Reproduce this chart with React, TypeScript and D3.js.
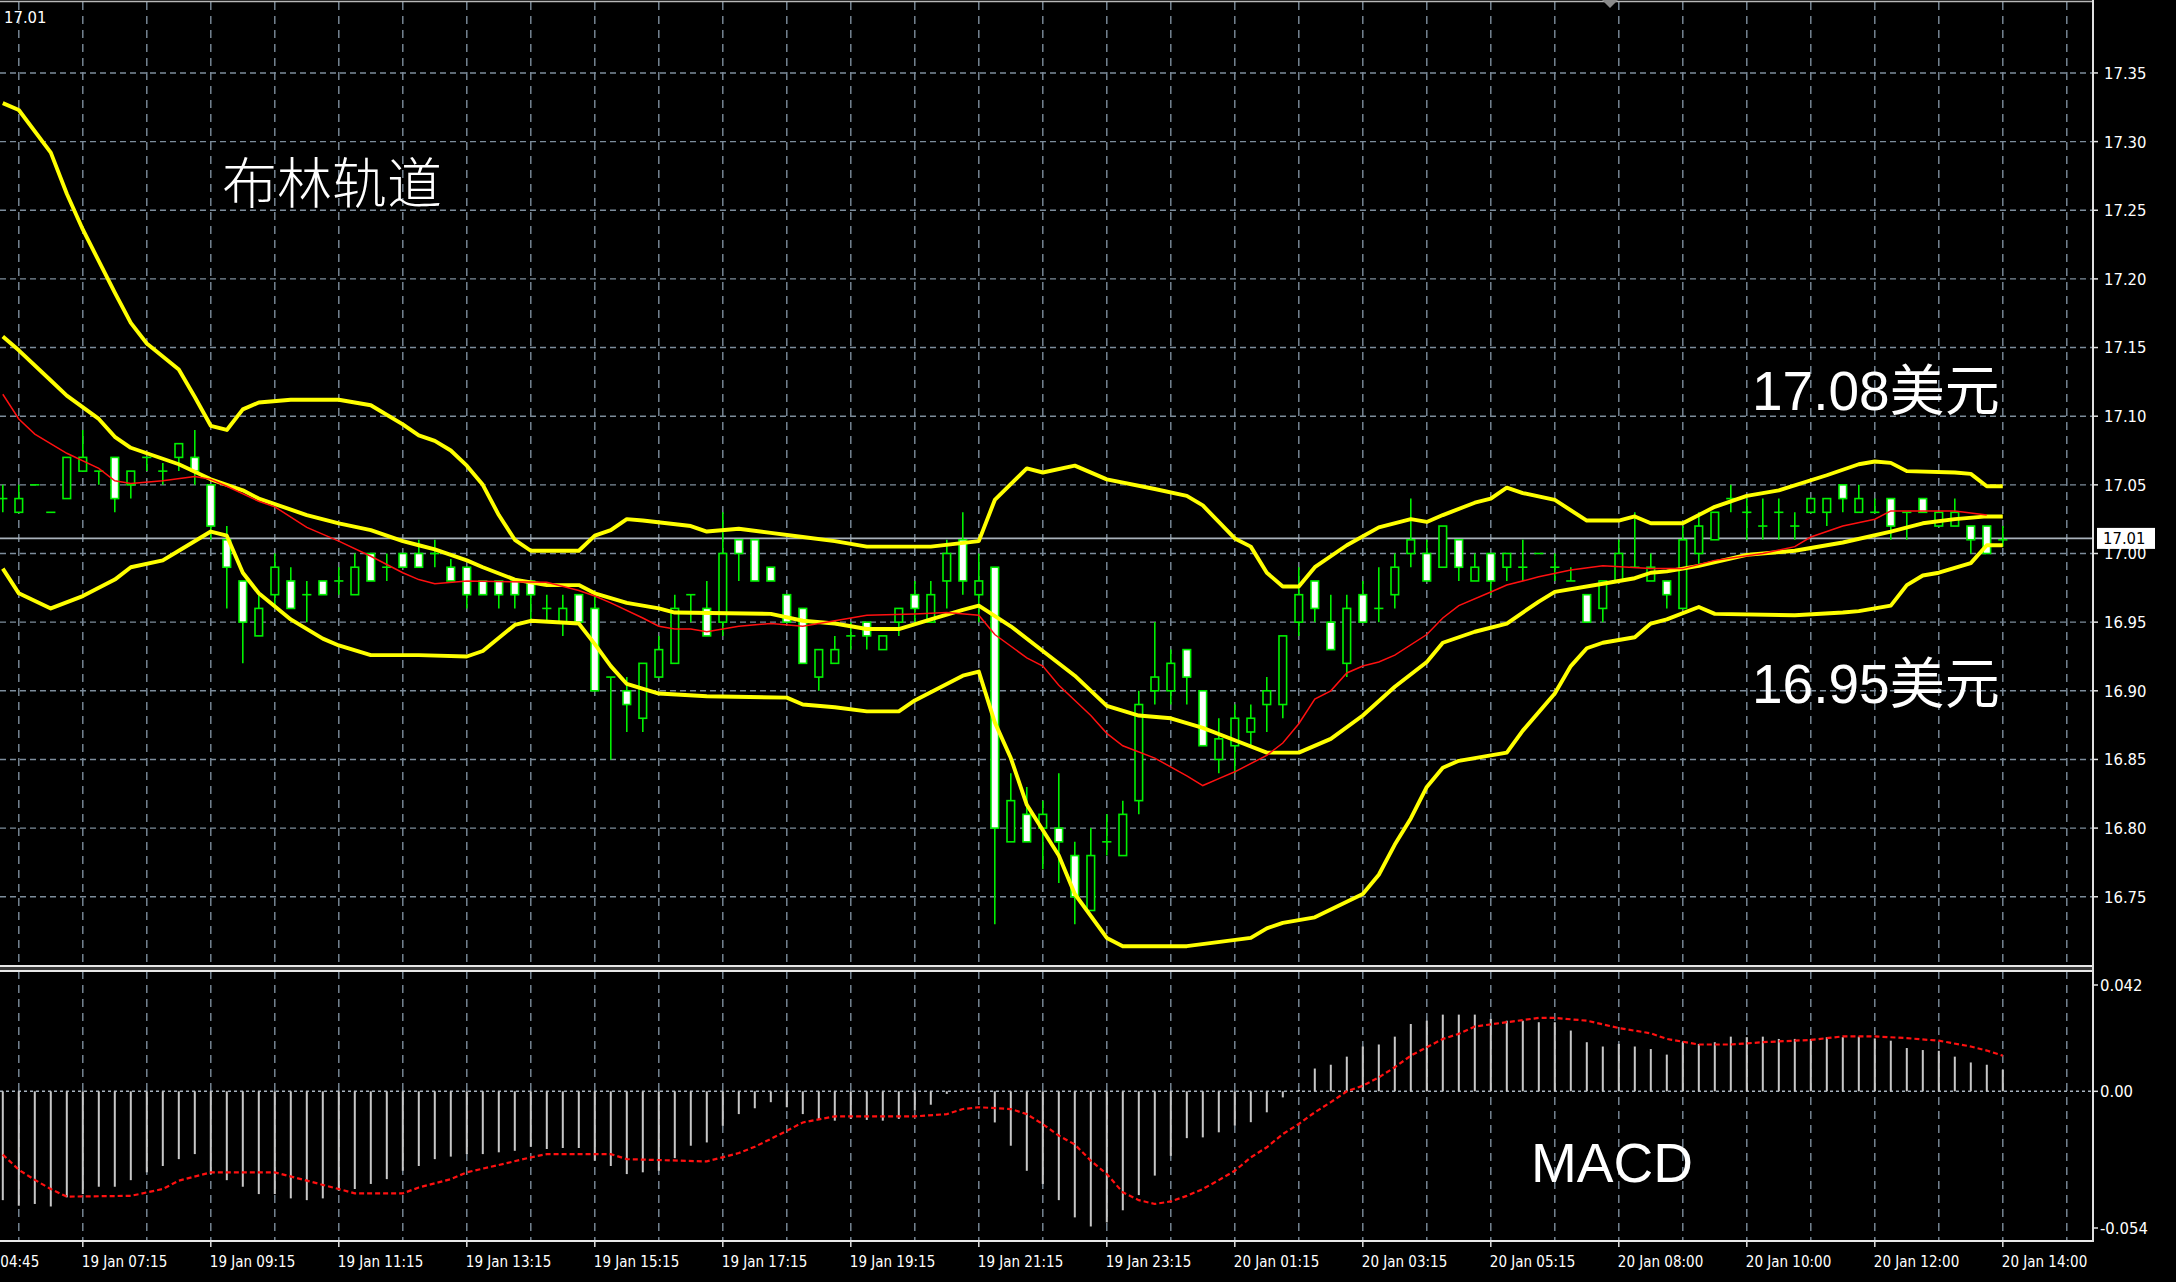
import React from "react";
import * as d3 from "d3";

const W = 2176;
const H = 1282;

// ---------- price data (one value per 15-minute bar) ----------
const opens = [
  17.04, 17.03, 17.05, 17.03, 17.04, 17.06, 17.06, 17.07, 17.05, 17.07,
  17.06, 17.07, 17.07, 17.05, 17.01, 16.98, 16.94, 16.97, 16.98, 16.97,
  16.98, 16.98, 16.97, 17.0, 16.99, 17.0, 17.0, 17.0, 16.99, 16.99,
  16.98, 16.98, 16.98, 16.98, 16.96, 16.95, 16.97, 16.96, 16.91, 16.9,
  16.88, 16.91, 16.92, 16.97, 16.96, 16.95, 17.01, 17.01, 16.99, 16.97,
  16.96, 16.91, 16.92, 16.94, 16.95, 16.93, 16.95, 16.97, 16.95, 16.98,
  17.01, 16.97, 16.99, 16.79, 16.81, 16.8, 16.8, 16.78, 16.74, 16.79,
  16.78, 16.82, 16.9, 16.9, 16.93, 16.9, 16.85, 16.86, 16.87, 16.89,
  16.89, 16.95, 16.98, 16.95, 16.92, 16.97, 16.96, 16.97, 17.0, 17.0,
  16.99, 17.01, 16.98, 17.0, 16.99, 16.99, 17.0, 16.99, 16.98, 16.97,
  16.96, 16.98, 16.99, 16.98, 16.98, 16.96, 17.0, 17.01, 17.04, 17.03,
  17.02, 17.03, 17.02, 17.03, 17.03, 17.05, 17.03, 17.03, 17.04, 17.03,
  17.04, 17.02, 17.02, 17.02, 17.02, 17.01,
];
const highs = [
  17.05, 17.05, 17.05, 17.03, 17.07, 17.09, 17.06, 17.07, 17.06, 17.07,
  17.066, 17.08, 17.09, 17.05, 17.02, 16.98, 16.97, 17.0, 16.99, 16.98,
  16.98, 16.99, 17.0, 17.0, 17.0, 17.0, 17.01, 17.01, 16.996, 16.99,
  16.98, 16.98, 16.98, 16.98, 16.97, 16.97, 16.97, 16.97, 16.91, 16.91,
  16.92, 16.94, 16.97, 16.97, 16.98, 17.03, 17.01, 17.01, 16.99, 16.97,
  16.96, 16.93, 16.94, 16.95, 16.95, 16.94, 16.96, 16.98, 16.98, 17.01,
  17.03, 17.0, 16.99, 16.84, 16.83, 16.82, 16.84, 16.79, 16.8, 16.81,
  16.82, 16.9, 16.95, 16.93, 16.93, 16.9, 16.88, 16.89, 16.89, 16.91,
  16.94, 16.99, 16.98, 16.97, 16.97, 16.98, 16.99, 17.0, 17.04, 17.01,
  17.02, 17.01, 17.0, 17.0, 17.0, 17.01, 17.0, 17.0, 16.99, 16.97,
  16.98, 17.01, 17.03, 17.0, 16.98, 17.02, 17.03, 17.03, 17.05, 17.04,
  17.04, 17.04, 17.03, 17.04, 17.04, 17.05, 17.05, 17.04, 17.04, 17.03,
  17.04, 17.03, 17.04, 17.02, 17.02, 17.02,
];
const lows = [
  17.03, 17.03, 17.05, 17.03, 17.04, 17.06, 17.05, 17.03, 17.04, 17.06,
  17.05, 17.06, 17.05, 17.01, 16.96, 16.92, 16.94, 16.96, 16.96, 16.95,
  16.97, 16.97, 16.97, 16.98, 16.98, 16.99, 16.99, 16.99, 16.98, 16.96,
  16.97, 16.96, 16.96, 16.95, 16.95, 16.94, 16.95, 16.9, 16.85, 16.87,
  16.87, 16.91, 16.92, 16.95, 16.94, 16.94, 16.98, 16.98, 16.98, 16.95,
  16.92, 16.9, 16.92, 16.93, 16.93, 16.93, 16.94, 16.95, 16.95, 16.96,
  16.97, 16.95, 16.73, 16.79, 16.79, 16.77, 16.76, 16.73, 16.74, 16.78,
  16.78, 16.81, 16.89, 16.89, 16.89, 16.86, 16.84, 16.84, 16.86, 16.87,
  16.88, 16.94, 16.95, 16.93, 16.91, 16.95, 16.95, 16.96, 16.99, 16.98,
  16.99, 16.98, 16.98, 16.97, 16.98, 16.98, 17.0, 16.98, 16.98, 16.95,
  16.95, 16.98, 16.99, 16.98, 16.96, 16.96, 16.99, 17.01, 17.03, 17.01,
  17.01, 17.01, 17.01, 17.03, 17.02, 17.03, 17.03, 17.03, 17.01, 17.01,
  17.03, 17.02, 17.02, 17.0, 17.0, 17.005,
];
const closes = [
  17.04, 17.04, 17.05, 17.03, 17.07, 17.07, 17.06, 17.04, 17.06, 17.07,
  17.06, 17.08, 17.06, 17.02, 16.99, 16.95, 16.96, 16.99, 16.96, 16.97,
  16.97, 16.98, 16.99, 16.98, 16.99, 16.99, 16.99, 17.0, 16.98, 16.97,
  16.97, 16.97, 16.97, 16.97, 16.96, 16.96, 16.95, 16.9, 16.91, 16.89,
  16.92, 16.93, 16.96, 16.97, 16.94, 17.0, 17.0, 16.98, 16.98, 16.95,
  16.92, 16.93, 16.93, 16.94, 16.94, 16.94, 16.96, 16.96, 16.97, 17.0,
  16.98, 16.98, 16.8, 16.82, 16.79, 16.81, 16.79, 16.75, 16.78, 16.79,
  16.81, 16.89, 16.91, 16.92, 16.91, 16.86, 16.865, 16.88, 16.88, 16.9,
  16.94, 16.97, 16.96, 16.93, 16.96, 16.95, 16.96, 16.99, 17.01, 16.98,
  17.02, 16.99, 16.99, 16.98, 17.0, 16.99, 17.0, 16.99, 16.98, 16.95,
  16.98, 17.0, 16.99, 16.99, 16.97, 17.01, 17.02, 17.03, 17.04, 17.03,
  17.02, 17.03, 17.02, 17.04, 17.04, 17.04, 17.04, 17.03, 17.02, 17.03,
  17.03, 17.03, 17.03, 17.01, 17.0, 17.01,
];

// ---------- Bollinger bands & moving average: [bar index, price] ----------
const upperBand: [number, number][] = [
  [0, 17.328], [1, 17.323], [3, 17.292], [4, 17.262], [5, 17.236], [7, 17.19], [8, 17.168],
  [9, 17.153], [11, 17.134], [12, 17.114], [13, 17.093], [14, 17.09], [15, 17.105], [16, 17.11],
  [18, 17.112], [21, 17.112], [23, 17.108], [25, 17.094], [26, 17.086], [27, 17.082], [28, 17.075],
  [29, 17.064], [30, 17.05], [31, 17.028], [32, 17.01], [33, 17.002], [36, 17.002], [37, 17.013],
  [38, 17.017], [39, 17.025], [40, 17.024], [43, 17.02], [44, 17.016], [46, 17.018], [48, 17.015],
  [50, 17.012], [52, 17.009], [54, 17.005], [58, 17.005], [61, 17.009], [62, 17.039], [64, 17.062],
  [65, 17.059], [67, 17.064], [69, 17.054], [72, 17.047], [74, 17.042], [75, 17.035], [77, 17.011],
  [78, 17.005], [79, 16.986], [80, 16.976], [81, 16.976], [82, 16.99], [84, 17.006], [86, 17.019],
  [88, 17.025], [89, 17.023], [90, 17.028], [92, 17.037], [93, 17.04], [94, 17.048], [95, 17.044],
  [97, 17.039], [99, 17.024], [101, 17.024], [102, 17.027], [103, 17.022], [105, 17.022],
  [107, 17.034], [109, 17.042], [111, 17.046], [114, 17.057], [116, 17.065], [117, 17.067],
  [118, 17.066], [119, 17.06], [122, 17.059], [123, 17.058], [124, 17.049], [125, 17.049],
];
const middleBand: [number, number][] = [
  [0, 17.158], [1, 17.148], [3, 17.126], [4, 17.115], [6, 17.098], [7, 17.085], [8, 17.077],
  [10, 17.069], [11, 17.065], [13, 17.054], [15, 17.046], [16, 17.04], [19, 17.028], [21, 17.022],
  [23, 17.017], [25, 17.009], [26, 17.006], [27, 17.003], [29, 16.995], [30, 16.99], [32, 16.981],
  [34, 16.977], [36, 16.977], [37, 16.971], [39, 16.964], [41, 16.96], [42, 16.957], [48, 16.956],
  [50, 16.951], [52, 16.949], [54, 16.945], [56, 16.945], [58, 16.952], [60, 16.959], [61, 16.962],
  [63, 16.947], [65, 16.929], [67, 16.911], [69, 16.889], [71, 16.882], [73, 16.88], [75, 16.873],
  [77, 16.864], [79, 16.855], [81, 16.855], [83, 16.865], [85, 16.882], [87, 16.903], [89, 16.921],
  [90, 16.935], [92, 16.943], [94, 16.949], [96, 16.965], [97, 16.972], [100, 16.978],
  [102, 16.982], [103, 16.986], [104, 16.987], [106, 16.991], [109, 16.999], [112, 17.002],
  [115, 17.008], [118, 17.016], [120, 17.022], [122, 17.025], [124, 17.027], [125, 17.027],
];
const lowerBand: [number, number][] = [
  [0, 16.989], [1, 16.971], [3, 16.96], [5, 16.969], [7, 16.981], [8, 16.99], [10, 16.995],
  [11, 17.002], [13, 17.016], [14, 17.013], [15, 16.986], [16, 16.971], [18, 16.952], [20, 16.938],
  [21, 16.933], [23, 16.926], [26, 16.926], [29, 16.925], [30, 16.929], [32, 16.948], [33, 16.951],
  [36, 16.949], [37, 16.934], [38, 16.918], [39, 16.905], [41, 16.898], [44, 16.896], [49, 16.895],
  [50, 16.89], [52, 16.888], [54, 16.885], [56, 16.885], [57, 16.893], [60, 16.911], [61, 16.914],
  [62, 16.877], [63, 16.851], [64, 16.817], [66, 16.78], [67, 16.752], [69, 16.72], [70, 16.714],
  [74, 16.714], [78, 16.72], [79, 16.727], [80, 16.731], [82, 16.735], [85, 16.752], [86, 16.766],
  [87, 16.788], [88, 16.807], [89, 16.83], [90, 16.844], [91, 16.849], [94, 16.855], [95, 16.871],
  [97, 16.898], [98, 16.918], [99, 16.931], [100, 16.935], [102, 16.939], [103, 16.949],
  [104, 16.952], [106, 16.961], [107, 16.956], [112, 16.955], [115, 16.957], [116, 16.958],
  [118, 16.962], [119, 16.977], [120, 16.984], [121, 16.986], [123, 16.993], [124, 17.006],
  [125, 17.006],
];
const maLine: [number, number][] = [
  [0, 17.116], [1, 17.098], [2, 17.087], [4, 17.073], [6, 17.062], [7, 17.053], [8, 17.051],
  [10, 17.053], [12, 17.056], [13, 17.054], [14, 17.049], [16, 17.038], [17, 17.034], [19, 17.019],
  [21, 17.009], [23, 16.998], [25, 16.986], [26, 16.981], [27, 16.978], [29, 16.98], [34, 16.979],
  [36, 16.973], [37, 16.969], [38, 16.964], [40, 16.953], [41, 16.947], [42, 16.945], [43, 16.945],
  [44, 16.943], [46, 16.947], [48, 16.949], [50, 16.947], [52, 16.951], [54, 16.955], [57, 16.956],
  [59, 16.957], [61, 16.955], [62, 16.941], [64, 16.924], [65, 16.918], [66, 16.904], [68, 16.882],
  [69, 16.869], [70, 16.86], [72, 16.851], [74, 16.838], [75, 16.831], [76, 16.836], [77, 16.841],
  [79, 16.853], [80, 16.862], [81, 16.876], [82, 16.894], [83, 16.9], [84, 16.913], [85, 16.918],
  [86, 16.921], [87, 16.926], [89, 16.941], [90, 16.953], [91, 16.962], [93, 16.972], [94, 16.977],
  [96, 16.983], [98, 16.988], [100, 16.991], [103, 16.989], [105, 16.989], [107, 16.995],
  [110, 17.0], [112, 17.005], [113, 17.012], [115, 17.02], [117, 17.025], [118, 17.031],
  [122, 17.031], [124, 17.028],
];

// ---------- MACD ----------
const macdHist = [
  -0.043, -0.0452, -0.0445, -0.0455, -0.0419, -0.0406, -0.0377, -0.0377, -0.0351, -0.032,
  -0.0295, -0.0268, -0.0248, -0.0327, -0.0351, -0.0377, -0.0406, -0.0406, -0.0423, -0.043,
  -0.0423, -0.0393, -0.0386, -0.0366, -0.0347, -0.0314, -0.0295, -0.0268, -0.0258, -0.0248,
  -0.0248, -0.0241, -0.0235, -0.0219, -0.0228, -0.0224, -0.0224, -0.0274, -0.0295, -0.0327,
  -0.032, -0.0314, -0.0264, -0.0215, -0.0202, -0.0136, -0.009, -0.0067, -0.0043, -0.0063,
  -0.009, -0.0109, -0.0116, -0.0109, -0.0113, -0.0116, -0.0109, -0.0076, -0.0053, -0.001,
  0.0, -0.0004, -0.0123, -0.0215, -0.0314, -0.0366, -0.043, -0.0498, -0.0534, -0.0518,
  -0.047, -0.041, -0.0333, -0.0255, -0.0185, -0.0182, -0.0162, -0.0135, -0.0122, -0.0083,
  -0.0024, 0.0005, 0.009, 0.0105, 0.0137, 0.0177, 0.0185, 0.0216, 0.0266, 0.0279,
  0.0303, 0.0303, 0.0303, 0.0286, 0.0279, 0.0279, 0.0273, 0.0273, 0.024, 0.0194,
  0.0177, 0.0187, 0.0177, 0.0167, 0.0145, 0.0194, 0.0187, 0.0194, 0.0216, 0.0214,
  0.0216, 0.0207, 0.0207, 0.0207, 0.0214, 0.0214, 0.0216, 0.0209, 0.02, 0.0171,
  0.0163, 0.016, 0.0137, 0.0114, 0.0105, 0.0085,
];
const macdSignal: [number, number][] = [
  [0, -0.025], [1, -0.031], [2, -0.035], [3, -0.0386], [4, -0.0416], [8, -0.0413], [10, -0.0386],
  [11, -0.0353], [13, -0.032], [17, -0.032], [19, -0.0353], [21, -0.0386], [22, -0.0403],
  [25, -0.0403], [26, -0.038], [28, -0.0347], [29, -0.032], [31, -0.0291], [33, -0.0261],
  [34, -0.0248], [38, -0.0248], [39, -0.0268], [44, -0.0277], [46, -0.0244], [47, -0.0219],
  [48, -0.0188], [49, -0.0156], [50, -0.0123], [52, -0.0099], [57, -0.0099], [59, -0.009],
  [60, -0.007], [61, -0.0063], [63, -0.007], [64, -0.009], [65, -0.013], [66, -0.0175],
  [67, -0.021], [68, -0.0274], [69, -0.0327], [70, -0.0399], [71, -0.043], [72, -0.0445],
  [73, -0.0435], [74, -0.0413], [75, -0.0386], [76, -0.0351], [77, -0.0314], [78, -0.0261],
  [79, -0.0221], [80, -0.0169], [81, -0.0129], [82, -0.0083], [83, -0.0043], [84, 0.0],
  [85, 0.0022], [86, 0.0055], [87, 0.0095], [88, 0.0141], [89, 0.0174], [90, 0.0207],
  [91, 0.0227], [92, 0.0256], [94, 0.0273], [96, 0.029], [97, 0.029], [99, 0.0279], [101, 0.025],
  [103, 0.0229], [104, 0.0207], [106, 0.0185], [108, 0.0185], [110, 0.0194], [113, 0.0203],
  [115, 0.0217], [117, 0.0217], [119, 0.021], [121, 0.02], [123, 0.0177], [124, 0.0161],
  [125, 0.0141],
];

// ---------- axes ----------
const priceTicks = [17.35, 17.3, 17.25, 17.2, 17.15, 17.1, 17.05, 17.0, 16.95, 16.9, 16.85, 16.8, 16.75];
const macdTicks = [0.042, 0.0, -0.054];
const macdTickLabels = ["0.042", "0.00", "-0.054"];
const timeLabelBars = [-3, 5, 13, 21, 29, 37, 45, 53, 61, 69, 77, 85, 93, 101, 109, 117, 125];
const timeLabels = [
  "19 Jan 04:45", "19 Jan 07:15", "19 Jan 09:15", "19 Jan 11:15", "19 Jan 13:15", "19 Jan 15:15",
  "19 Jan 17:15", "19 Jan 19:15", "19 Jan 21:15", "19 Jan 23:15", "20 Jan 01:15", "20 Jan 03:15",
  "20 Jan 05:15", "20 Jan 08:00", "20 Jan 10:00", "20 Jan 12:00", "20 Jan 14:00",
];
const lastPrice = 17.011;

const GRID = "#7d8d9c";
const LIME = "#00f000";
const AXIS_FONT = "'DejaVu Sans Condensed', 'DejaVu Sans', sans-serif";
const BIG_FONT = "'Liberation Sans', 'Noto Sans CJK SC', sans-serif";

export default function App() {
  const plotRight = 2093;
  const mainBottom = 966;
  const macdTop = 971;
  const macdBottom = 1241;

  const x = d3.scaleLinear().domain([0, 125]).range([2.8, 2002.8]);
  const y = d3.scaleLinear().domain([16.75, 17.35]).range([896.75, 72.95]);
  const ym = d3.scaleLinear().domain([-0.054, 0.042]).range([1228, 985]);

  const priceLine = d3
    .line<[number, number]>()
    .x((d) => x(d[0]))
    .y((d) => y(d[1]));
  const macdLine = d3
    .line<[number, number]>()
    .x((d) => x(d[0]))
    .y((d) => ym(d[1]));

  const gridBars = d3.range(0, 33).map((k) => 1 + 4 * k);

  const bodyHalf = 3.8;

  return (
    <svg
      width={W}
      height={H}
      style={{ position: "absolute", left: 0, top: 0, display: "block" }}
      xmlns="http://www.w3.org/2000/svg"
    >
      <defs>
        <clipPath id="mainClip">
          <rect x={0} y={2} width={plotRight} height={mainBottom - 2} />
        </clipPath>
        <clipPath id="macdClip">
          <rect x={0} y={macdTop} width={plotRight} height={macdBottom - macdTop} />
        </clipPath>
      </defs>
      <rect x={0} y={0} width={W} height={H} fill="#000" />

      {/* vertical grid */}
      <g stroke={GRID} strokeWidth={1.4} strokeDasharray="8,6">
        {gridBars.map((b) => (
          <g key={b}>
            <line x1={x(b)} x2={x(b)} y1={2} y2={mainBottom} />
            <line x1={x(b)} x2={x(b)} y1={macdTop} y2={macdBottom} />
          </g>
        ))}
      </g>
      {/* horizontal grid */}
      <g stroke={GRID} strokeWidth={1.4} strokeDasharray="6,4">
        {priceTicks.map((p) => (
          <line key={p} x1={0} x2={plotRight} y1={y(p)} y2={y(p)} />
        ))}
      </g>

      {/* current price line */}
      <line x1={0} x2={plotRight} y1={y(lastPrice)} y2={y(lastPrice)} stroke="#a9b2bb" strokeWidth={1.6} />

      {/* candles */}
      <g clipPath="url(#mainClip)">
        {closes.map((c, i) => {
          const o = opens[i];
          const cx = x(i);
          const top = y(Math.max(o, c));
          const bot = y(Math.min(o, c));
          return (
            <g key={i}>
              <line x1={cx} x2={cx} y1={y(highs[i])} y2={y(lows[i])} stroke={LIME} strokeWidth={1.6} />
              {o === c ? (
                <line x1={cx - bodyHalf - 0.8} x2={cx + bodyHalf + 0.8} y1={y(o)} y2={y(o)} stroke={LIME} strokeWidth={1.6} />
              ) : (
                <rect
                  x={cx - bodyHalf}
                  y={top}
                  width={bodyHalf * 2}
                  height={Math.max(bot - top, 1)}
                  fill={c < o ? "#ffffff" : "#000000"}
                  stroke={LIME}
                  strokeWidth={1.6}
                />
              )}
            </g>
          );
        })}
        {/* Bollinger bands */}
        <path d={priceLine(upperBand) || ""} fill="none" stroke="#ffff00" strokeWidth={3.9} strokeLinejoin="round" />
        <path d={priceLine(lowerBand) || ""} fill="none" stroke="#ffff00" strokeWidth={3.9} strokeLinejoin="round" />
        <path d={priceLine(middleBand) || ""} fill="none" stroke="#ffff00" strokeWidth={3.9} strokeLinejoin="round" />
        <path d={priceLine(maLine) || ""} fill="none" stroke="#ff1010" strokeWidth={1.5} />
      </g>

      {/* MACD */}
      <g clipPath="url(#macdClip)">
        <line x1={0} x2={plotRight} y1={ym(0)} y2={ym(0)} stroke="#a8b4c0" strokeWidth={1.4} strokeDasharray="3,3" />
        {macdHist.map((v, i) => (
          <line key={i} x1={x(i)} x2={x(i)} y1={ym(0)} y2={ym(v)} stroke="#c8c8c8" strokeWidth={2} />
        ))}
        <path d={macdLine(macdSignal) || ""} fill="none" stroke="#ff1010" strokeWidth={2.2} strokeDasharray="5,3" />
      </g>

      {/* frames */}
      <line x1={0} x2={plotRight} y1={1.5} y2={1.5} stroke="#b8b8b8" strokeWidth={1.5} />
      <rect x={0} y={mainBottom - 0.5} width={plotRight + 1} height={6} fill="#3a3a3a" />
      <line x1={0} x2={plotRight + 1} y1={mainBottom} y2={mainBottom} stroke="#e8e8e8" strokeWidth={2} />
      <line x1={0} x2={plotRight + 1} y1={macdTop} y2={macdTop} stroke="#e8e8e8" strokeWidth={2} />
      <line x1={0} x2={plotRight + 1} y1={macdBottom} y2={macdBottom} stroke="#e8e8e8" strokeWidth={2} />
      <line x1={plotRight} x2={plotRight} y1={0} y2={macdBottom + 1} stroke="#e0e0e0" strokeWidth={2} />

      {/* shift marker */}
      <path d="M1602,0 L1618,0 L1610,8 Z" fill="#8a8a8a" />

      {/* price axis */}
      <g fill="#ffffff" fontFamily={AXIS_FONT} fontSize={16.5}>
        {priceTicks.map((p) => (
          <g key={p}>
            <line x1={plotRight} x2={plotRight + 5} y1={y(p)} y2={y(p)} stroke="#e0e0e0" strokeWidth={1.5} />
            <text x={2104} y={y(p)} dy="0.36em">
              {p.toFixed(2)}
            </text>
          </g>
        ))}
        {macdTicks.map((v, k) => (
          <g key={v}>
            <line x1={plotRight} x2={plotRight + 5} y1={ym(v)} y2={ym(v)} stroke="#e0e0e0" strokeWidth={1.5} />
            <text x={2100} y={ym(v)} dy="0.36em">
              {macdTickLabels[k]}
            </text>
          </g>
        ))}
      </g>
      {/* current price tag */}
      <rect x={2097} y={y(lastPrice) - 10.5} width={58} height={21} fill="#ffffff" />
      <text x={2103} y={y(lastPrice)} dy="0.36em" fontFamily={AXIS_FONT} fontSize={16.5} fill="#000">
        17.01
      </text>

      {/* time axis */}
      <g fill="#ffffff" fontFamily={AXIS_FONT} fontSize={15}>
        {timeLabelBars.map((b, k) => (
          <g key={b}>
            <line x1={x(b)} x2={x(b)} y1={macdBottom} y2={macdBottom + 6} stroke="#e0e0e0" strokeWidth={1.5} />
            <text x={x(b) - 1} y={1267}>
              {timeLabels[k]}
            </text>
          </g>
        ))}
      </g>

      {/* top-left symbol price */}
      <text x={4} y={23} fill="#ffffff" fontFamily={AXIS_FONT} fontSize={16.5}>
        17.01
      </text>

      {/* annotations */}
      <text x={222} y={203} fill="#ffffff" fontFamily="'Noto Sans CJK SC', sans-serif" fontWeight={300} fontSize={55}>
        布林轨道
      </text>
      <text x={1752} y={410} fill="#ffffff" fontFamily={BIG_FONT} fontSize={55}>
        17.08美元
      </text>
      <text x={1752} y={703} fill="#ffffff" fontFamily={BIG_FONT} fontSize={55}>
        16.95美元
      </text>
      <text x={1531} y={1182} fill="#ffffff" fontFamily={BIG_FONT} fontSize={55}>
        MACD
      </text>
    </svg>
  );
}
